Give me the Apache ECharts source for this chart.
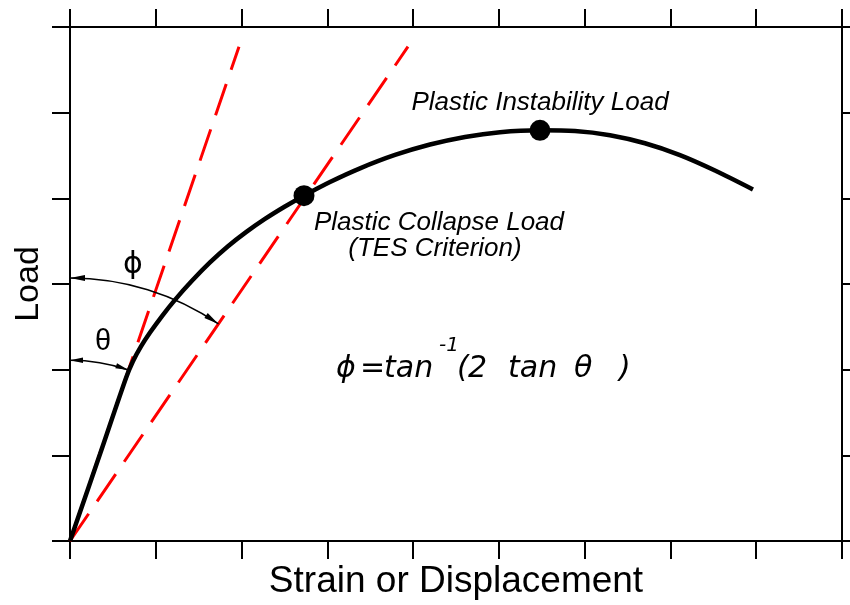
<!DOCTYPE html>
<html><head><meta charset="utf-8">
<script src="https://cdn.jsdelivr.net/npm/echarts@6/dist/echarts.min.js"></script>
<style>html,body{margin:0;padding:0;background:#fff}#c{width:850px;height:605px}</style>
</head><body><div id="c"></div>
<script>
// ---- data (axis units) ----
const xTicks = [0, 1, 2, 3, 4, 5, 6, 7, 8, 9];
const yTicks = [0, 1, 2, 3, 4, 5, 6];
const strain = [0, 0.350, 0.653, 0.734, 0.828, 0.933, 1.073, 1.224, 1.422, 1.632, 1.842, 2.052, 2.273, 2.506, 2.728,
                3.031, 3.381, 3.789, 4.197, 4.605, 5.013, 5.479, 5.887, 6.295, 6.703, 7.111, 7.519, 7.962];
const load   = [0, 1.015, 1.903, 2.098, 2.271, 2.433, 2.626, 2.815, 3.037, 3.251, 3.440, 3.605, 3.760, 3.905, 4.031,
                4.190, 4.350, 4.506, 4.628, 4.717, 4.772, 4.794, 4.786, 4.737, 4.643, 4.505, 4.325, 4.104];
const elasticX = [0, 1.97];
const elasticY = [0, 5.77];
const doubledX = [0, 3.94];
const doubledY = [0, 5.77];
const pointX = [2.728, 5.479];
const pointY = [4.031, 4.794];
const phiArcRadius = 3.07;
const thetaArcRadius = 2.11;

const SANS = '"Liberation Sans", Arial, "DejaVu Sans", sans-serif';
const chart = echarts.init(document.getElementById('c'), null, {renderer: 'canvas'});

function axisBase(extra) {
  return Object.assign({
    type: 'value', interval: 1,
    axisLine: {show: true, onZero: false, lineStyle: {color: '#000', width: 2}},
    axisTick: {show: true, inside: false, length: 18, lineStyle: {color: '#000', width: 2}},
    axisLabel: {show: false},
    splitLine: {show: false}
  }, extra);
}

const option = {
  animation: false,
  backgroundColor: '#fff',
  grid: {left: 70, right: 8, top: 27, bottom: 63},
  xAxis: [
    axisBase({min: xTicks[0], max: xTicks[xTicks.length - 1], position: 'bottom',
      name: 'Strain or Displacement', nameLocation: 'middle', nameGap: 22,
      nameTextStyle: {fontFamily: SANS, fontSize: 37, color: '#000'}}),
    axisBase({min: xTicks[0], max: xTicks[xTicks.length - 1], position: 'top'})
  ],
  yAxis: [
    axisBase({min: yTicks[0], max: yTicks[yTicks.length - 1], position: 'left',
      name: 'Load', nameLocation: 'middle', nameGap: 24, nameRotate: 90,
      nameTextStyle: {fontFamily: SANS, fontSize: 34, color: '#000'}}),
    axisBase({min: yTicks[0], max: yTicks[yTicks.length - 1], position: 'right'})
  ],
  series: [
    {type: 'line', data: elasticX.map((x, i) => [x, elasticY[i]]), showSymbol: false,
      lineStyle: {color: '#ff0000', width: 3, type: [33, 15], dashOffset: 30}, z: 1},
    {type: 'line', data: doubledX.map((x, i) => [x, doubledY[i]]), showSymbol: false,
      lineStyle: {color: '#ff0000', width: 3, type: [33, 15]}, z: 1},
    {type: 'line', data: strain.map((x, i) => [x, load[i]]), smooth: 0.3, showSymbol: false,
      lineStyle: {color: '#000', width: 4.5}, z: 3},
    {type: 'scatter', data: pointX.map((x, i) => [x, pointY[i]]), symbolSize: 21,
      itemStyle: {color: '#000', opacity: 1}, z: 4}
  ]
};
chart.setOption(option);

const P = (x, y) => chart.convertToPixel({xAxisIndex: 0, yAxisIndex: 0}, [x, y]);
const o = P(0, 0);
const els = [];

function arrowHead(tx, ty, dx, dy, L, W) {
  const bx = tx - dx * L, by = ty - dy * L;
  const nx = -dy, ny = dx;
  return {type: 'polygon', z: 10,
    shape: {points: [[tx, ty], [bx + nx * W, by + ny * W], [bx - nx * W, by - ny * W]]},
    style: {fill: '#000'}};
}
function angleArc(R, dirX, dirY, L, W) {
  const r = o[1] - P(0, R)[1];
  const e = P(dirX, dirY);
  const b = Math.atan2(e[1] - o[1], e[0] - o[0]);
  const a = -Math.PI / 2;
  els.push({type: 'arc', z: 10,
    shape: {cx: o[0], cy: o[1], r: r, startAngle: a, endAngle: b, clockwise: true},
    style: {stroke: '#000', lineWidth: 1.5, fill: null}});
  els.push(arrowHead(o[0] + r * Math.cos(a), o[1] + r * Math.sin(a), Math.sin(a), -Math.cos(a), L, W));
  els.push(arrowHead(o[0] + r * Math.cos(b), o[1] + r * Math.sin(b), -Math.sin(b), Math.cos(b), L, W));
}
angleArc(phiArcRadius, doubledX[1], doubledY[1], 15, 3);
angleArc(thetaArcRadius, elasticX[1], elasticY[1], 13, 2.7);

function txt(s, x, y, font, align) {
  els.push({type: 'text', z: 11, style: {text: s, x: x, y: y, font: font, fill: '#000',
    textAlign: align || 'center', textVerticalAlign: 'middle'}});
}
const ital = 'italic 26px ' + SANS;
txt('Plastic Instability Load', 540, 103, ital);
txt('Plastic Collapse Load', 439, 223, ital);
txt('(TES Criterion)', 435, 249, ital);
txt('ϕ', 133, 265, '30px "DejaVu Sans", sans-serif');
txt('θ', 103, 342, '29px ' + SANS);

const fF = 'italic 30px "DejaVu Sans", sans-serif';
txt('ϕ', 336, 369, fF, 'left');
txt('=', 360, 369, fF, 'left');
txt('tan', 384, 369, fF, 'left');
txt('-1', 439, 346, 'italic 20px "DejaVu Sans", sans-serif', 'left');
txt('(', 457, 369, fF, 'left');
txt('2', 468, 369, fF, 'left');
txt('tan', 508, 369, fF, 'left');
txt('θ', 574, 369, fF, 'left');
txt(')', 619, 369, fF, 'left');

chart.setOption({graphic: els});
</script></body></html>
